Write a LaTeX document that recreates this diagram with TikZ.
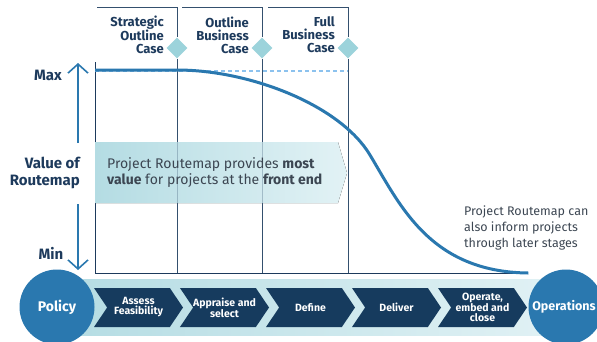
\documentclass[tikz,border=0pt]{standalone}
\usepackage{fontspec}
\setmainfont{Fira Sans}
\usetikzlibrary{arrows.meta,shapes.geometric,shapes.symbols,positioning}

\definecolor{navy}{HTML}{1D3A5C}
\definecolor{stepblue}{HTML}{163B5E}
\definecolor{midblue}{HTML}{2A78AF}
\definecolor{tealA}{HTML}{B4DCE3}
\definecolor{tealB}{HTML}{E2F2F5}
\definecolor{gem}{HTML}{9CD3DB}
\definecolor{dashblue}{HTML}{8CC2EE}
\definecolor{gridline}{HTML}{34506E}
\definecolor{bodytext}{HTML}{3C4652}

\begin{document}
\begin{tikzpicture}[x=1pt,y=-1pt,node distance=86pt,
  gate node/.style={diamond,fill=gem,inner sep=0pt,minimum size=21pt},
  case node/.style={align=right,text=navy,inner sep=0pt,
    font=\fontsize{13}{13}\selectfont\bfseries},
  axis node/.style={align=right,text=navy,inner sep=0pt,
    font=\fontsize{15}{17}\selectfont\bfseries},
  end node/.style={circle,fill=midblue,minimum size=75pt,inner sep=0pt,
    text=white,font=\fontsize{14}{16}\selectfont\bfseries},
  step node/.style={signal,signal to=east,signal from=west,
    signal pointer angle=112,fill=stepblue,minimum width=89pt,
    minimum height=39pt,inner sep=0pt,align=center,text=white,
    font=\fontsize{10.5}{10}\selectfont\bfseries},
  grid line/.style={gridline,line width=0.9pt},
  value arrow/.style={midblue,line width=1.6pt,
    -{Straight Barb[length=9pt,width=20pt,line width=1.6pt]}}]

  \useasboundingbox (0,0) rectangle (597,341);

  % bottom band and the two ends
  \fill[left color=tealA,right color=tealB] (57,279) rectangle (566,335);
  \node[end node] (policy) at (57,307) {Policy};
  \node[end node,font=\fontsize{12.5}{14}\selectfont\bfseries]
    (ops) at (566,307) {\hspace*{-4pt}Operations};

  % stages
  \node[step node] (s1) at (138.5,307.5) {Assess\\Feasibility};
  \node[step node] (s2) [right of=s1] {Appraise and\\select};
  \node[step node] (s3) [right of=s2] {Define};
  \node[step node] (s4) [right of=s3] {Deliver};
  \node[step node] (s5) [right of=s4] {Operate,\\embed and\\close};

  % gateways
  \node[gate node] (g1) at (177,48) {};
  \node[gate node] (g2) at (262,48) {};
  \node[gate node] (g3) at (348,48) {};

  \node[case node,anchor=east] (c1) at (164,35) {Strategic\\Outline\\Case};
  \node[case node,anchor=east] (c2) at (249,35) {Outline\\Business\\Case};
  \node[case node,anchor=east] (c3) at (335,35) {Full\\Business\\Case};

  % frame of the chart
  \draw[grid line] (97,7) -- (177,7) -- (g1.north);
  \draw[grid line] (g1.south) -- (177,273);
  \draw[grid line] (182,7) -- (262,7) -- (g2.north);
  \draw[grid line] (g2.south) -- (262,273);
  \draw[grid line] (268,7) -- (348,7) -- (g3.north);
  \draw[grid line] (g3.south) -- (348,273);
  \draw[navy,line width=1pt] (95,62) -- (95,273) -- (ops.west |- 0,273);

  % value scale
  \node[axis node] (max) at (48,75) {Max};
  \node[axis node] (min) at (51,253) {Min};
  \node[axis node,anchor=east] (value) at (80,173) {Value of\\Routemap};
  \coordinate (maxTip) at (78,63);
  \coordinate (minTip) at (78,270);
  \draw[value arrow] (maxTip |- 0,143) -- (maxTip);
  \draw[value arrow] (minTip |- 0,204) -- (minTip);

  % front end band (grid shows faintly through it)
  \fill[left color=tealA,right color=tealB]
    (95,142) -- (338,142) -- (347,173) -- (338,203) -- (95,203) -- cycle;
  \foreach \x in {177,262}
    \draw[grid line,draw opacity=0.3] (\x,142) -- (\x,203);
  \node[anchor=west,align=left,text=bodytext,inner sep=0pt,
    font=\fontsize{14}{16}\selectfont] (note1) at (107,173)
    {Project Routemap provides \textbf{most}\\
     \textbf{value} for projects at the \textbf{front end}};

  % value curve
  \draw[dashblue,line width=1.2pt,dash pattern=on 4pt off 3pt] (95,71) -- (348,71);
  \draw[midblue,line width=3pt] (95,70) -- (177,70)
    .. controls (250,70) and (340,105) .. (370,155)
    .. controls (400,205) and (430,272) .. (ops.west |- 0,273);

  \node[anchor=west,align=left,text=bodytext,inner sep=0pt,
    font=\fontsize{12.5}{16}\selectfont] (note2) at (464,228)
    {Project Routemap can\\also inform projects\\through later stages};
\end{tikzpicture}
\end{document}
